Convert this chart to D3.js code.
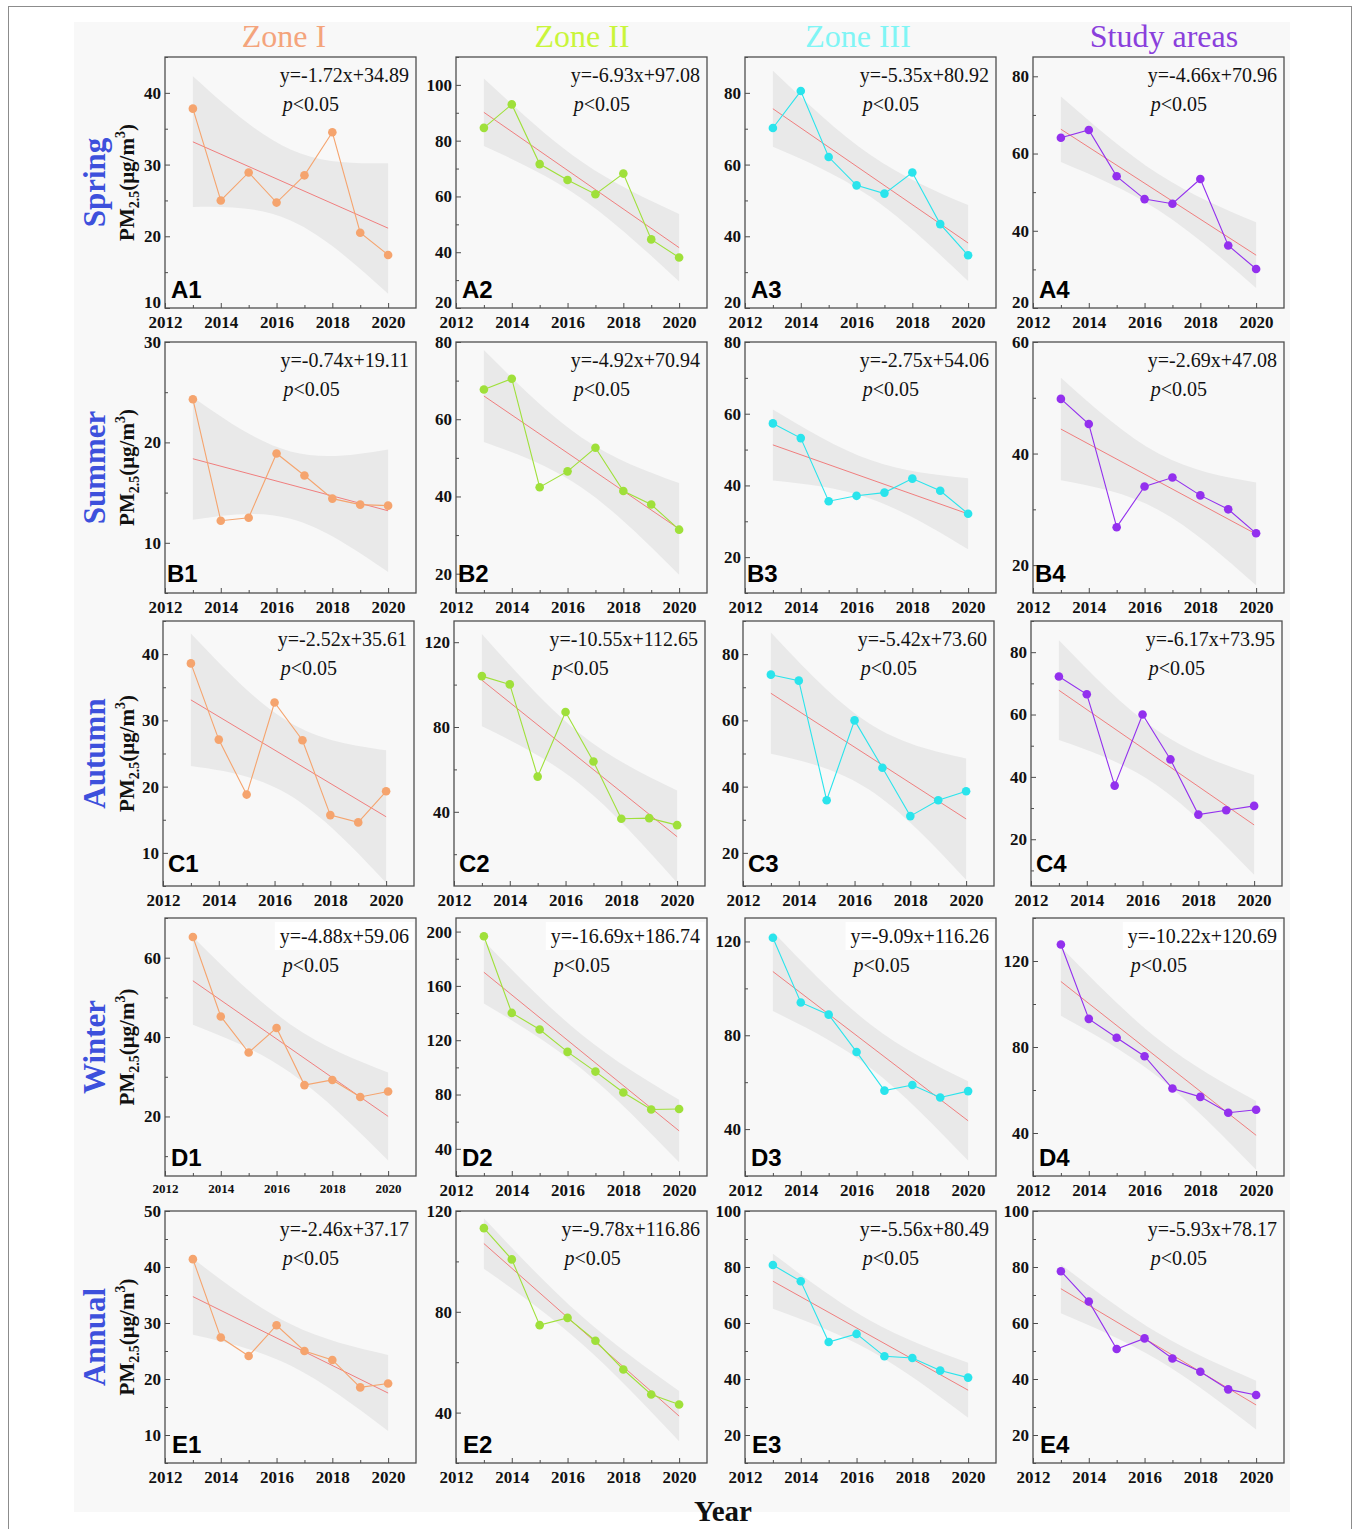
<!DOCTYPE html>
<html>
<head>
<meta charset="utf-8">
<script src="https://cdn.jsdelivr.net/npm/d3@7"></script>
<style>
  body { margin: 0; background: #fff; }
</style>
</head>
<body>
<svg id="fig"></svg>
<script>
// ---- Data: seasonal PM2.5 (µg/m3), 2013-2020, per zone ----
const years = [2013, 2014, 2015, 2016, 2017, 2018, 2019, 2020];
const zoneNames = ["Zone I", "Zone II", "Zone III", "Study areas"];
const seasonNames = ["Spring", "Summer", "Autumn", "Winter", "Annual"];
const rowLetters = ["A", "B", "C", "D", "E"];
const xTickYears = [2012, 2014, 2016, 2018, 2020];
const xMinorYears = [2013, 2015, 2017, 2019];
const bandYears = [2013, 2016.5, 2020];

// series order within each season: Zone I, Zone II, Zone III, Study areas
const springPM = [
  [37.8, 25.0, 28.9, 24.7, 28.5, 34.5, 20.5, 17.4],
  [84.6, 93.0, 71.6, 65.9, 60.8, 68.2, 44.6, 38.1],
  [70.2, 80.5, 62.1, 54.2, 51.9, 57.8, 43.4, 34.7],
  [64.1, 66.1, 54.1, 48.2, 47.0, 53.4, 36.2, 30.1]
];
const summerPM = [
  [24.3, 12.2, 12.5, 18.9, 16.7, 14.4, 13.8, 13.7],
  [67.7, 70.5, 42.4, 46.5, 52.6, 41.4, 37.9, 31.4],
  [57.3, 53.2, 35.6, 37.1, 38.0, 41.9, 38.5, 32.1],
  [49.8, 45.3, 26.8, 34.1, 35.7, 32.5, 30.0, 25.7]
];
const autumnPM = [
  [38.6, 27.1, 18.8, 32.7, 27.0, 15.7, 14.6, 19.3],
  [104.0, 100.1, 56.6, 87.1, 63.7, 36.7, 37.0, 33.7],
  [73.8, 72.0, 35.9, 60.0, 45.7, 31.1, 35.9, 38.6],
  [72.2, 66.5, 37.2, 60.0, 45.6, 27.9, 29.3, 30.7]
];
const winterPM = [
  [65.2, 45.2, 36.1, 42.3, 27.9, 29.2, 24.9, 26.3],
  [196.6, 140.1, 127.9, 111.4, 96.9, 81.5, 69.0, 69.3],
  [121.6, 94.0, 88.8, 72.9, 56.4, 58.8, 53.5, 56.2],
  [127.7, 93.1, 84.3, 75.7, 60.7, 56.8, 49.4, 50.8]
];
const annualPM = [
  [41.4, 27.4, 24.1, 29.6, 25.0, 23.4, 18.5, 19.2],
  [113.2, 100.8, 74.7, 77.6, 68.5, 57.1, 47.2, 43.2],
  [80.7, 74.9, 53.2, 56.1, 48.1, 47.5, 43.0, 40.5],
  [78.5, 67.7, 50.7, 54.5, 47.3, 42.6, 36.3, 34.3]
];

// fitted trend y = slope*x + intercept, x = year - 2012
const springSlope = [-1.72, -6.93, -5.35, -4.66];
const springIntercept = [34.89, 97.08, 80.92, 70.96];
const summerSlope = [-0.74, -4.92, -2.75, -2.69];
const summerIntercept = [19.11, 70.94, 54.06, 47.08];
const autumnSlope = [-2.52, -10.55, -5.42, -6.17];
const autumnIntercept = [35.61, 112.65, 73.60, 73.95];
const winterSlope = [-4.88, -16.69, -9.09, -10.22];
const winterIntercept = [59.06, 186.74, 116.26, 120.69];
const annualSlope = [-2.46, -9.78, -5.56, -5.93];
const annualIntercept = [37.17, 116.86, 80.49, 78.17];

// 95% confidence band of the trend at 2013, 2016.5, 2020
const springBandUpper = [[42.3, 32.1, 30.2], [102.3, 72.5, 53.7], [86.2, 62.7, 48.7], [74.8, 54.7, 42.2]];
const springBandLower = [[24.1, 22.2, 12.0], [78.1, 59.3, 29.5], [65.0, 51.0, 27.5], [57.8, 45.3, 25.2]];
const summerBandUpper = [[24.5, 19.1, 19.3], [77.9, 55.3, 43.5], [61.2, 47.1, 42.0], [53.6, 40.0, 34.8]];
const summerBandLower = [[12.3, 12.4, 7.1], [54.1, 42.3, 19.7], [41.4, 36.3, 22.2], [35.2, 29.9, 16.4]];
const autumnBandUpper = [[43.1, 29.8, 25.5], [123.9, 77.1, 50.1], [86.5, 59.2, 48.5], [83.8, 55.0, 40.6]];
const autumnBandLower = [[23.1, 18.8, 5.5], [80.3, 53.2, 6.5], [49.9, 39.2, 11.9], [51.8, 37.4, 8.6]];
const winterBandUpper = [[65.3, 43.2, 31.1], [193.1, 124.2, 76.2], [124.1, 84.6, 60.4], [126.5, 83.5, 54.9]];
const winterBandLower = [[43.1, 31.0, 8.9], [147.1, 99.0, 30.2], [90.3, 66.1, 26.6], [94.5, 65.9, 22.9]];
const annualBandUpper = [[41.5, 29.8, 24.3], [117.1, 78.3, 48.6], [84.7, 60.8, 45.8], [80.9, 56.3, 39.4]];
const annualBandLower = [[27.9, 22.4, 10.7], [97.1, 67.4, 28.6], [65.1, 50.1, 26.2], [63.5, 46.7, 22.0]];

// y-axis extents and labelled ticks
const springYDomain = [[10, 45], [20, 110], [20, 90], [20, 85]];
const springYTicks = [[10, 20, 30, 40], [20, 40, 60, 80, 100], [20, 40, 60, 80], [20, 40, 60, 80]];
const summerYDomain = [[5, 30], [15, 80], [10, 80], [15, 60]];
const summerYTicks = [[10, 20, 30], [20, 40, 60, 80], [20, 40, 60, 80], [20, 40, 60]];
const autumnYDomain = [[5, 45], [5, 130], [10, 90], [5, 90]];
const autumnYTicks = [[10, 20, 30, 40], [40, 80, 120], [20, 40, 60, 80], [20, 40, 60, 80]];
const winterYDomain = [[5, 70], [20, 210], [20, 130], [20, 140]];
const winterYTicks = [[20, 40, 60], [40, 80, 120, 160, 200], [40, 80, 120], [40, 80, 120]];
const annualYDomain = [[5, 50], [20, 120], [10, 100], [10, 100]];
const annualYTicks = [[10, 20, 30, 40, 50], [40, 80, 120], [20, 40, 60, 80, 100], [20, 40, 60, 80, 100]];

const zoneTitleColors = ["#f4a47c", "#c9f53a", "#80f5f5", "#8a3fdc"];
const zoneSeriesColors = ["#f5a46e", "#9fe03a", "#2ae4ec", "#9330ee"];

const seasons = [
  { pm: springPM, slope: springSlope, icpt: springIntercept, up: springBandUpper, lo: springBandLower, dom: springYDomain, ticks: springYTicks },
  { pm: summerPM, slope: summerSlope, icpt: summerIntercept, up: summerBandUpper, lo: summerBandLower, dom: summerYDomain, ticks: summerYTicks },
  { pm: autumnPM, slope: autumnSlope, icpt: autumnIntercept, up: autumnBandUpper, lo: autumnBandLower, dom: autumnYDomain, ticks: autumnYTicks },
  { pm: winterPM, slope: winterSlope, icpt: winterIntercept, up: winterBandUpper, lo: winterBandLower, dom: winterYDomain, ticks: winterYTicks },
  { pm: annualPM, slope: annualSlope, icpt: annualIntercept, up: annualBandUpper, lo: annualBandLower, dom: annualYDomain, ticks: annualYTicks }
];

// ---- Layout ----
const W = 1356, H = 1529;
const SERIF = "'Liberation Serif', 'Times New Roman', serif";
const SANS = "'Liberation Sans', Arial, sans-serif";
const colLeft = [165, 456, 745, 1033];
const panelW = 251;
const rowTop = [57, 342, 621, 918, 1211];
const rowH = [251, 251, 265, 258, 252];
const rowShift = [0, 0, -2, 0, 0];
const tagOffset = [6, 2, 5, 6, 7];
const tagLift = [10, 11, 14, 10, 10];
const titleX = [284, 582, 858, 1164];

const svg = d3.select("#fig").attr("width", W).attr("height", H);
svg.append("rect").attr("width", W).attr("height", H).attr("fill", "#fff");
svg.append("rect").attr("x", 8.5).attr("y", 6.5).attr("width", 1343).attr("height", 1560)
  .attr("fill", "none").attr("stroke", "#8c8c8c").attr("stroke-width", 1);
svg.append("rect").attr("x", 74).attr("y", 22).attr("width", 1216).attr("height", 1490).attr("fill", "#f8f8f8");

// column titles
zoneNames.forEach((z, c) => {
  svg.append("text").attr("x", titleX[c]).attr("y", 47).attr("text-anchor", "middle")
    .attr("font-family", SERIF).attr("font-size", 32).attr("fill", zoneTitleColors[c]).text(z);
});

// row titles and y-axis caption
seasonNames.forEach((s, r) => {
  const cy = rowTop[r] + rowH[r] / 2;
  svg.append("text").attr("transform", `translate(105,${cy}) rotate(-90)`).attr("text-anchor", "middle")
    .attr("font-family", SERIF).attr("font-weight", "bold").attr("font-size", 31).attr("fill", "#3d50dc").text(s);
  const pm = svg.append("text").attr("transform", `translate(134,${cy}) rotate(-90)`).attr("text-anchor", "middle")
    .attr("font-family", SERIF).attr("font-weight", "bold").attr("font-size", 21).attr("fill", "#111");
  pm.append("tspan").text("PM");
  pm.append("tspan").attr("font-size", 14).attr("dy", 5).text("2.5");
  pm.append("tspan").attr("dy", -5).text("(μg/m");
  pm.append("tspan").attr("font-size", 14).attr("dy", -9).text("3");
  pm.append("tspan").attr("dy", 9).text(")");
});

function styleAxis(sel, size) {
  sel.select(".domain").remove();
  sel.attr("font-family", SERIF).attr("font-size", size).attr("font-weight", "bold");
  sel.selectAll("text").attr("fill", "#111");
  sel.selectAll("line").attr("stroke", "#4d4d4d").attr("stroke-width", 1);
}

seasons.forEach((s, r) => {
  zoneNames.forEach((z, c) => {
    const x0 = colLeft[c] + rowShift[r], y0 = rowTop[r], w = panelW, h = rowH[r];
    const g = svg.append("g").attr("transform", `translate(${x0},${y0})`);
    const x = d3.scaleLinear().domain([2012, 2021]).range([0, w]);
    const y = d3.scaleLinear().domain(s.dom[c]).range([h, 0]);
    const color = zoneSeriesColors[c];

    // confidence band
    const band = d3.area()
      .x((d, i) => x(bandYears[i]))
      .y0(d => y(d[0])).y1(d => y(d[1]))
      .curve(d3.curveNatural);
    g.append("path")
      .datum(bandYears.map((_, i) => [s.lo[c][i], s.up[c][i]]))
      .attr("d", band).attr("fill", "#e9e9e9");

    // equation and significance
    const a = s.slope[c], b = s.icpt[c];
    const eq = g.append("text").attr("x", w - 7).attr("y", 25).attr("text-anchor", "end")
      .attr("font-family", SERIF).attr("font-size", 20).attr("fill", "#111")
      .text(`y=${a.toFixed(2)}x+${b.toFixed(2)}`);
    const bb = eq.node().getBBox();
    if (r === 3) {
      g.insert("rect", () => eq.node()).attr("x", bb.x - 5).attr("y", 4)
        .attr("width", w - 2 - (bb.x - 5)).attr("height", 28).attr("fill", "#fff");
    }
    const p = g.append("text").attr("x", bb.x + 3).attr("y", 54)
      .attr("font-family", SERIF).attr("font-size", 20).attr("fill", "#111");
    p.append("tspan").attr("font-style", "italic").text("p");
    p.append("tspan").text("<0.05");

    // trend line from the stated equation
    const trendYears = [years[0], years[years.length - 1]];
    g.append("path")
      .datum(trendYears)
      .attr("d", d3.line().x(d => x(d)).y(d => y(a * (d - 2012) + b)))
      .attr("fill", "none").attr("stroke", "#f07272").attr("stroke-width", 0.9);

    // observed series
    const series = years.map((yr, i) => [yr, s.pm[c][i]]);
    g.append("path").datum(series)
      .attr("d", d3.line().x(d => x(d[0])).y(d => y(d[1])))
      .attr("fill", "none").attr("stroke", color).attr("stroke-width", 1.1);
    g.selectAll("circle.pt").data(series).join("circle").attr("class", "pt")
      .attr("cx", d => x(d[0])).attr("cy", d => y(d[1])).attr("r", 4.3).attr("fill", color);

    // axes with inward ticks
    const xLabelSize = (r === 3 && c === 0) ? 13 : 17;
    const xa = g.append("g").attr("transform", `translate(0,${h})`)
      .call(d3.axisBottom(x).tickValues(xTickYears).tickFormat(d3.format("d"))
        .tickSizeInner(-5).tickSizeOuter(0).tickPadding(8));
    styleAxis(xa, xLabelSize);
    const xm = g.append("g").attr("transform", `translate(0,${h})`)
      .call(d3.axisBottom(x).tickValues(xMinorYears).tickFormat("").tickSizeInner(-3).tickSizeOuter(0));
    styleAxis(xm, 10);

    const ticks = s.ticks[c];
    const step = ticks[1] - ticks[0];
    const [d0, d1] = s.dom[c];
    const minor = d3.range(ticks[0] - step / 2, d1 + 1e-9, step).filter(v => v >= d0 && v <= d1);
    const ya = g.append("g")
      .call(d3.axisLeft(y).tickValues(ticks).tickFormat(d3.format("d"))
        .tickSizeInner(-5).tickSizeOuter(0).tickPadding(4));
    styleAxis(ya, 17);
    // a label sitting on the bottom edge is lifted clear of the year labels
    ya.selectAll(".tick").filter(d => d === d0).select("text").attr("y", -6);
    const ym = g.append("g")
      .call(d3.axisLeft(y).tickValues(minor).tickFormat("").tickSizeInner(-3).tickSizeOuter(0));
    styleAxis(ym, 10);

    // frame
    g.append("rect").attr("width", w).attr("height", h).attr("fill", "none")
      .attr("stroke", "#4f4f4f").attr("stroke-width", 1.3);

    // panel tag
    g.append("text").attr("x", tagOffset[r]).attr("y", h - tagLift[r])
      .attr("font-family", SANS).attr("font-weight", "bold").attr("font-size", 24).attr("fill", "#000")
      .text(rowLetters[r] + (c + 1));
  });
});

svg.append("text").attr("x", 723).attr("y", 1521).attr("text-anchor", "middle")
  .attr("font-family", SERIF).attr("font-weight", "bold").attr("font-size", 29).attr("fill", "#111").text("Year");
</script>
</body>
</html>
